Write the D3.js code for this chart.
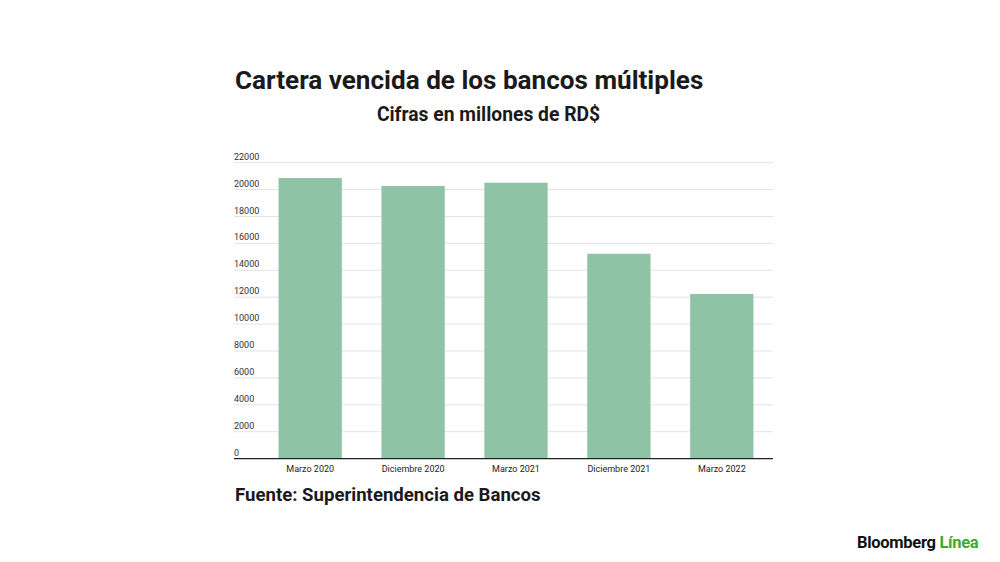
<!DOCTYPE html>
<meta charset="utf-8">
<title>Cartera vencida de los bancos múltiples</title>
<script src="https://d3js.org/d3.v7.min.js"></script>
<style>
  body { margin: 0; background: #fff; font-family: Roboto, "Noto Sans", sans-serif; overflow: hidden; }
</style>
<div id="chart"></div>
<script>
// data (millones de RD$)
var periods = ["Marzo 2020", "Diciembre 2020", "Marzo 2021", "Diciembre 2021", "Marzo 2022"];
var cartera = [20860, 20270, 20510, 15230, 12240];
var yTicks = [0, 2000, 4000, 6000, 8000, 10000, 12000, 14000, 16000, 18000, 20000, 22000];

var W = 1000, H = 562;
var svg = d3.select("#chart").append("svg")
  .attr("width", W)
  .attr("height", H);

// plot area
var gridLeft = 234, plotLeft = 259, plotRight = 773,
    plotTop = 162.7, plotBottom = 458.6;

var x = d3.scaleBand()
  .domain(periods)
  .range([plotLeft, plotRight])
  .paddingInner(0.385)
  .paddingOuter(0.19);

var y = d3.scaleLinear()
  .domain([0, 22000])
  .range([plotBottom, plotTop]);

// gridlines with labels sitting above them
var grid = svg.append("g");
grid.selectAll("line")
  .data(yTicks.filter(function(d) { return d > 0; }))
  .enter().append("line")
    .attr("x1", gridLeft)
    .attr("x2", plotRight)
    .attr("y1", function(d) { return y(d); })
    .attr("y2", function(d) { return y(d); })
    .attr("stroke", "#e3e3e3")
    .attr("stroke-width", 1);

grid.selectAll("text")
  .data(yTicks)
  .enter().append("text")
    .attr("x", gridLeft)
    .attr("y", function(d) { return y(d) - 3; })
    .attr("font-size", "9px")
    .attr("fill", "#333")
    .text(function(d) { return d; });

// bars
svg.selectAll(".bar")
  .data(cartera)
  .enter().append("rect")
    .attr("class", "bar")
    .attr("x", function(d, i) { return x(periods[i]); })
    .attr("width", x.bandwidth())
    .attr("y", function(d) { return y(d); })
    .attr("height", function(d) { return y(0) - y(d); })
    .attr("fill", "#8fc3a6");

// baseline + x labels
svg.append("line")
  .attr("x1", gridLeft)
  .attr("x2", plotRight)
  .attr("y1", y(0))
  .attr("y2", y(0))
  .attr("stroke", "#222")
  .attr("stroke-width", 1.3);

var xAxis = svg.append("g")
  .attr("transform", "translate(0," + y(0) + ")")
  .call(d3.axisBottom(x).tickSize(0).tickPadding(7));
xAxis.select(".domain").remove();
xAxis.selectAll("text")
  .attr("font-family", "Roboto, sans-serif")
  .attr("font-size", "9px")
  .attr("fill", "#222");

// titles
svg.append("text")
  .attr("x", 235)
  .attr("y", 89)
  .attr("font-size", "26.1px")
  .attr("font-weight", "bold")
  .attr("fill", "#1a1a1a")
  .text("Cartera vencida de los bancos múltiples");

svg.append("text")
  .attr("x", 488.5)
  .attr("y", 121)
  .attr("text-anchor", "middle")
  .attr("font-size", "19.3px")
  .attr("font-weight", "bold")
  .attr("fill", "#1a1a1a")
  .text("Cifras en millones de RD$");

svg.append("text")
  .attr("x", 235)
  .attr("y", 501)
  .attr("font-size", "18.6px")
  .attr("font-weight", "bold")
  .attr("fill", "#1a1a1a")
  .text("Fuente: Superintendencia de Bancos");

// logo
var logo = svg.append("text")
  .attr("x", 857)
  .attr("y", 548)
  .attr("font-size", "16.5px")
  .attr("font-weight", "bold")
  .attr("letter-spacing", "-0.3px");
logo.append("tspan").attr("fill", "#111").text("Bloomberg ");
logo.append("tspan").attr("fill", "#3aaa35").text("Línea");
</script>
